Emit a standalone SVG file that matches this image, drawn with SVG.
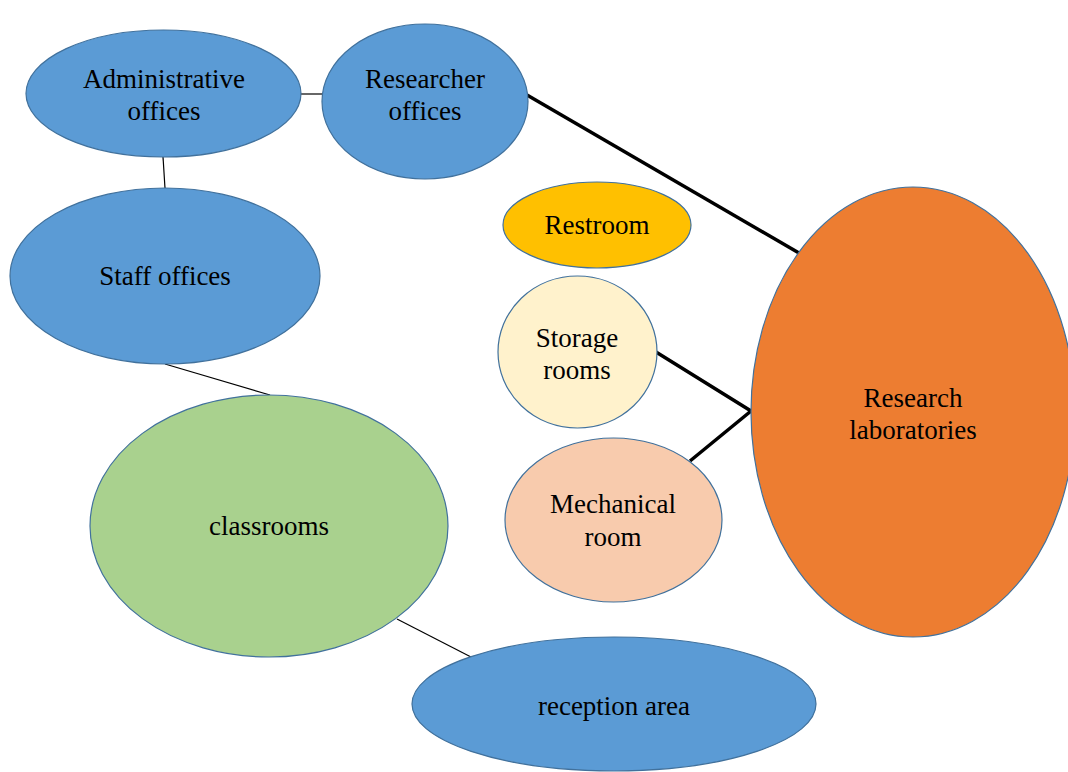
<svg xmlns="http://www.w3.org/2000/svg" width="1068" height="772" viewBox="0 0 1068 772">
  <style>
    .node { stroke: #41719C; stroke-width: 1.2; }
    .blue { fill: #5B9BD5; }
    .label { font-family: "Liberation Serif", "Times New Roman", serif; font-size: 27px; fill: #000; text-anchor: middle; }
    .thin { stroke: #000; stroke-width: 1.2; fill: none; }
    .thick { stroke: #000; stroke-width: 3.5; fill: none; stroke-linejoin: miter; }
  </style>
  <rect width="1068" height="772" fill="#fff"/>

  <g id="connectors">
    <line class="thin" x1="301" y1="94" x2="322" y2="94"/>
    <line class="thin" x1="163" y1="157" x2="165" y2="188"/>
    <line class="thin" x1="165" y1="364" x2="270" y2="395"/>
    <line class="thin" x1="397" y1="619" x2="471" y2="657"/>
    <line class="thick" x1="527" y1="95" x2="799" y2="253"/>
    <polyline class="thick" points="656,352 751,411 690,461"/>
  </g>

  <g id="administrative-offices">
    <ellipse class="node blue" cx="163.5" cy="93.5" rx="137.5" ry="63.5"/>
    <text class="label" x="164" y="88">Administrative</text>
    <text class="label" x="164" y="120">offices</text>
  </g>

  <g id="researcher-offices">
    <ellipse class="node blue" cx="425" cy="101.5" rx="103" ry="77.5"/>
    <text class="label" x="425" y="88">Researcher</text>
    <text class="label" x="425" y="120">offices</text>
  </g>

  <g id="staff-offices">
    <ellipse class="node blue" cx="165" cy="276" rx="155" ry="88"/>
    <text class="label" x="165" y="285">Staff offices</text>
  </g>

  <g id="classrooms">
    <ellipse class="node" fill="#A9D18E" cx="269" cy="526" rx="179" ry="131"/>
    <text class="label" x="269" y="535">classrooms</text>
  </g>

  <g id="reception-area">
    <ellipse class="node blue" cx="614" cy="704" rx="202" ry="67"/>
    <text class="label" x="614" y="715">reception area</text>
  </g>

  <g id="restroom">
    <ellipse class="node" fill="#FFC000" cx="597" cy="225" rx="94" ry="43"/>
    <text class="label" x="597" y="234">Restroom</text>
  </g>

  <g id="storage-rooms">
    <ellipse class="node" fill="#FFF2CC" cx="577.5" cy="352" rx="79.5" ry="76"/>
    <text class="label" x="577" y="347">Storage</text>
    <text class="label" x="577" y="379">rooms</text>
  </g>

  <g id="mechanical-room">
    <ellipse class="node" fill="#F8CBAD" cx="613.5" cy="520" rx="108.5" ry="82"/>
    <text class="label" x="613" y="513">Mechanical</text>
    <text class="label" x="613" y="546">room</text>
  </g>

  <g id="research-laboratories">
    <ellipse class="node" fill="#ED7D31" cx="913" cy="412" rx="162" ry="225"/>
    <text class="label" x="913" y="407">Research</text>
    <text class="label" x="913" y="439">laboratories</text>
  </g>
</svg>
